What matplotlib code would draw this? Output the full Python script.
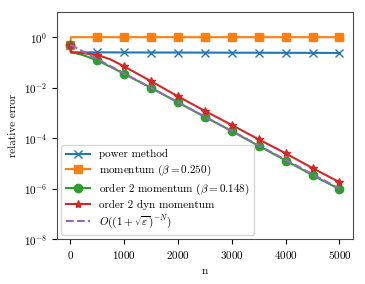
import numpy as np
import matplotlib
matplotlib.use("Agg")
import matplotlib.pyplot as plt

plt.rcParams['font.family'] = 'serif'
plt.rcParams['font.serif'] = ['cmr10']
plt.rcParams['mathtext.fontset'] = 'cm'
plt.rcParams['axes.formatter.use_mathtext'] = True
plt.rcParams['axes.unicode_minus'] = False

# iteration counts (markers every 500)
n = [0, 10, 250, 500, 750, 1000, 1500, 2000, 2500, 3000, 3500, 4000, 4500, 5000]

power = [0.5, 0.25, 0.25, 0.25, 0.25, 0.248, 0.247, 0.246, 0.245, 0.243, 0.242, 0.24, 0.239, 0.237]
momentum = [0.5, 1.0, 1.0, 1.0, 1.0, 1.0, 1.0, 1.0, 1.0, 1.0, 1.0, 1.0, 1.0, 1.0]
order2 = [0.5, 0.26, 0.19, 0.12, 0.066, 0.035, 0.0098, 0.0026, 6.9e-4, 1.9e-4, 4.9e-5, 1.3e-5, 3.4e-6, 9.5e-7]
order2_dyn = [0.5, 0.25, 0.23, 0.2, 0.13, 0.069, 0.018, 0.0045, 1.2e-3, 3.3e-4, 8.9e-5, 2.5e-5, 6.5e-6, 1.8e-6]

bound_n = [0, 5000]
bound = [0.5, 1.0e-6]

marks = [i for i, v in enumerate(n) if v % 500 == 0]

fig = plt.figure(figsize=(3.65, 2.84), dpi=100)
ax = fig.add_axes([0.156, 0.158, 0.811, 0.8])

ax.semilogy(n, power, marker='x', markevery=marks, ms=6, lw=1.5, color='tab:blue', label='power method')
ax.semilogy(n, momentum, marker='s', markevery=marks, ms=6, lw=1.5, color='tab:orange', label=r'momentum ($\beta = 0.250$)')
ax.semilogy(n, order2, marker='o', markevery=marks, ms=6, lw=1.5, color='tab:green', label=r'order 2 momentum ($\beta = 0.148$)')
ax.semilogy(n, order2_dyn, marker='*', markevery=marks, ms=6, lw=1.5, color='tab:red', label='order 2 dyn momentum')
ax.semilogy(bound_n, bound, '--', lw=1.5, color='tab:purple', label=r'$O((1+\sqrt{\varepsilon})^{-N})$')

ax.set_ylim(1e-8, 1e1)
ax.set_xlim(-250, 5250)
ax.set_yticks([1e0, 1e-2, 1e-4, 1e-6, 1e-8])
ax.yaxis.set_minor_locator(matplotlib.ticker.NullLocator())
ax.set_xticks([0, 1000, 2000, 3000, 4000, 5000])
ax.tick_params(labelsize=8, length=3.5)
for s in ax.spines.values():
    s.set_color('0.3')

ax.set_xlabel('n', fontsize=8)
ax.set_ylabel('relative error', fontsize=8)
ax.legend(loc='lower left', fontsize=8, handlelength=2.2, borderaxespad=0.4, labelspacing=0.3)

plt.savefig('out.png', dpi=100)
